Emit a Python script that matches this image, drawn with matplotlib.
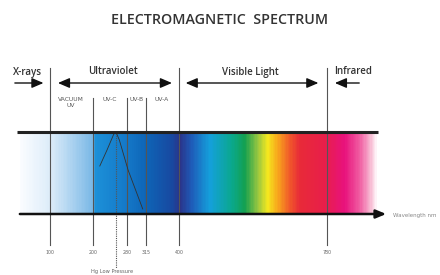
import numpy as np
import matplotlib
matplotlib.use("Agg")
import matplotlib.pyplot as plt
from matplotlib.colors import LinearSegmentedColormap

# ---- data ----
boundaries_nm = [100, 200, 280, 315, 400, 780]
boundary_labels = ["100", "200", "280", "315", "400", "780"]
major_bounds_nm = [100, 400, 780]
minor_bounds_nm = [200, 280, 315]
hg_line_nm = 254
band_labels = ["VACUUM\nUV", "UV-C", "UV-B", "UV-A"]
band_label_nm = [149, 240, 298, 356]
region_names = ["X-rays", "Ultraviolet", "Visible Light", "Infrared"]
hg_curve_nm = [216, 233, 249, 255, 262, 282, 300, 309]
hg_curve_y = [166, 150, 134, 133, 140, 170, 196, 209]

# gradient stops (nm, colour)
grad_nm = [28, 100, 198, 205, 280, 315, 382, 402, 433, 480, 536, 569, 603, 629, 654, 685, 711, 775, 829, 870, 903, 920]
grad_col = ["#fafcff", "#dcecf9", "#7ab8e6", "#1c90d8", "#1478c8", "#0e64b6", "#1848a0", "#2a348a",
            "#1e5cb8", "#14a0dc", "#0aa88c", "#14a050", "#98c640", "#f4e81e", "#f8a81c", "#f05a2a",
            "#e82a38", "#e81e4a", "#e8127c", "#f05aa0", "#f8c0d6", "#ffffff"]

# ---- piecewise wavelength scale (as drawn on the original chart) ----
knot_nm = np.array([-20, 100, 200, 280, 315, 400, 780, 1090], float)
knot_u = np.array([0, 50, 93, 127, 146, 179, 327, 440], float)
fwd = lambda x: np.interp(x, knot_nm, knot_u)
inv = lambda u: np.interp(u, knot_u, knot_nm)

fig = plt.figure(figsize=(4.4, 2.75), dpi=100)
ax = fig.add_axes([0, 0, 1, 1])
ax.set_xscale("function", functions=(fwd, inv))
ax.set_xlim(-20, 1090)
ax.set_ylim(275, 0)
ax.axis("off")

# spectrum band
pos = (np.array(grad_nm) - grad_nm[0]) / (grad_nm[-1] - grad_nm[0])
cmap = LinearSegmentedColormap.from_list("spec", list(zip(pos, grad_col)))
X = np.linspace(grad_nm[0], grad_nm[-1], 600)
Y = np.array([133, 213])
C = ((X[:-1] + X[1:]) / 2)[None, :]
ax.pcolormesh(X, Y, C, cmap=cmap, vmin=grad_nm[0], vmax=grad_nm[-1], shading="flat", zorder=1)

# horizontal lines
ax.plot([21, 920], [132, 132], color="#222222", lw=2.2, solid_capstyle="butt", zorder=3)
ax.annotate("", xy=(950, 214), xytext=(21, 214),
            arrowprops=dict(arrowstyle="-|>,head_length=0.6,head_width=0.25", color="#111111", lw=1.8), zorder=3)
ax.text(960, 215, "Wavelength nm", fontsize=4.0, color="#888888", ha="left", va="center")

# vertical boundary lines
for b in major_bounds_nm:
    ax.plot([b, b], [68, 245], color="#555555", lw=0.8, zorder=2)
for b in minor_bounds_nm:
    ax.plot([b, b], [98, 245], color="#555555", lw=0.8, zorder=2)
ax.plot([hg_line_nm, hg_line_nm], [133, 268], color="#555555", lw=0.8, ls=(0, (1, 1)), zorder=2)
ax.plot(hg_curve_nm, hg_curve_y, color="#333333", lw=0.6, zorder=2)

for b, lab in zip(boundaries_nm, boundary_labels):
    ax.text(b, 252, lab, fontsize=3.4, color="#666666", ha="center", va="center")
ax.text(244, 271, "Hg Low Pressure", fontsize=3.7, color="#666666", ha="center", va="center")

for nm, lab in zip(band_label_nm, band_labels):
    ax.text(nm, 97, lab, fontsize=4.3, color="#555555", ha="center", va="top", linespacing=1.2)

# region arrows
ap = dict(arrowstyle="-|>,head_length=0.7,head_width=0.3", color="#111111", lw=1.0)
ap2 = dict(arrowstyle="<|-|>,head_length=0.7,head_width=0.3", color="#111111", lw=1.0)
ax.annotate("", xy=(91, 83), xytext=(9, 83), arrowprops=ap)
ax.annotate("", xy=(389, 83), xytext=(112, 83), arrowprops=ap2)
ax.annotate("", xy=(765, 83), xytext=(410, 83), arrowprops=ap2)
ax.annotate("", xy=(794, 83), xytext=(876, 83), arrowprops=ap)
rk = dict(fontsize=7, color="#333333", va="center", family="Open Sans", weight="semibold")
ax.text(45, 72, region_names[0], ha="center", **rk)
ax.text(247, 72, region_names[1], ha="center", **rk)
ax.text(582, 72, region_names[2], ha="center", **rk)
ax.text(800, 72, region_names[3], ha="left", **rk)

fig.text(0.5, 1 - 20 / 275, "ELECTROMAGNETIC  SPECTRUM", fontsize=10.3, color="#333333",
         ha="center", va="center", family="Open Sans", weight="semibold")

fig.savefig("out.png", dpi=100, facecolor="white")
